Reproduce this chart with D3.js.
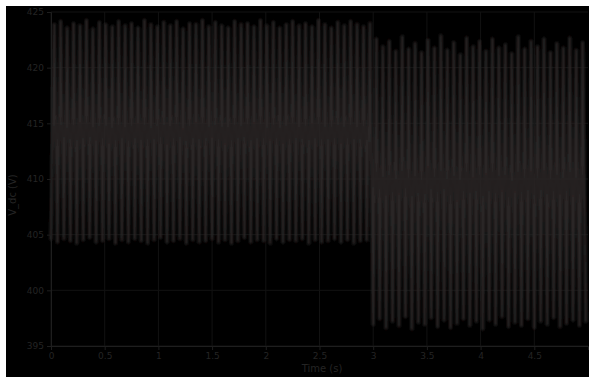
<!DOCTYPE html>
<html>
<head>
<meta charset="utf-8">
<script src="https://cdn.jsdelivr.net/npm/d3@7"></script>
<style>
  html, body { margin: 0; padding: 0; background: #fff; }
  svg { display: block; }
  text { font-family: "DejaVu Sans", sans-serif; }
</style>
</head>
<body>
<div id="chart"></div>
<script>
// chart size
let svgWidth = 589;
let svgHeight = 377;

let margin = { top: 12, left: 51, right: 1, bottom: 31 };
let width = svgWidth - margin.left - margin.right;
let height = svgHeight - margin.top - margin.bottom;

// axis ticks
let xTicks = [0, 0.5, 1, 1.5, 2, 2.5, 3, 3.5, 4, 4.5];
let yTicks = [395, 400, 405, 410, 415, 420, 425];
let xDomain = [0, 5];
let yDomain = [395, 425];

// step change at t = 3 s, one peak + one trough per cycle
let stepTime = 3;
let cycle = 0.06;

// peaks / troughs before the step (V)
let preHi = [423.9, 424.2, 423.6, 424.0, 423.8, 424.3, 423.5, 424.1, 423.9, 423.7,
    424.2, 423.8, 424.0, 423.6, 424.3, 423.9, 423.7, 424.1, 423.8, 424.2,
    423.5, 424.0, 423.9, 424.3, 423.7, 424.1, 423.8, 423.6, 424.2, 423.9,
    424.0, 423.7, 424.3, 423.8, 424.1, 423.6, 423.9, 424.2, 423.8, 424.0,
    423.7, 424.3, 423.9, 423.6, 424.1, 423.8, 424.2, 423.9, 423.7, 424.0];
let preLo = [404.5, 404.3, 404.6, 404.4, 404.2, 404.5, 404.7, 404.3, 404.4, 404.6,
    404.2, 404.5, 404.3, 404.6, 404.4, 404.2, 404.5, 404.7, 404.3, 404.4,
    404.6, 404.2, 404.5, 404.3, 404.4, 404.6, 404.3, 404.5, 404.2, 404.4,
    404.7, 404.3, 404.5, 404.4, 404.2, 404.6, 404.3, 404.5, 404.4, 404.6,
    404.2, 404.5, 404.3, 404.4, 404.6, 404.3, 404.5, 404.2, 404.4, 404.5];

// peaks / troughs after the step (V)
let postHi = [422.6, 421.9, 422.4, 421.5, 422.8, 421.7, 422.2, 421.4, 422.5, 421.8,
    422.9, 421.6, 422.3, 421.2, 422.7, 421.9, 422.4, 421.5, 422.6, 421.8,
    422.1, 421.3, 422.8, 421.7, 422.4, 421.9, 422.6, 421.4, 422.2, 421.8,
    422.7, 421.6, 422.3, 421.9];
let postLo = [396.9, 397.4, 396.6, 397.2, 396.8, 397.6, 396.5, 397.1, 396.9, 397.5,
    396.7, 397.3, 396.6, 397.0, 397.4, 396.8, 397.2, 396.5, 397.3, 396.9,
    397.6, 396.7, 397.1, 396.8, 397.4, 396.6, 397.2, 396.9, 397.5, 396.7,
    397.0, 397.3, 396.8, 397.1];

// build the zigzag sample list
let samples = [];
preHi.forEach(function(v, i) {
    samples.push({ t: i * cycle, v: preLo[i] });
    samples.push({ t: i * cycle + cycle / 2, v: v });
});
postHi.forEach(function(v, i) {
    samples.push({ t: stepTime + i * cycle, v: postLo[i] });
    samples.push({ t: stepTime + i * cycle + cycle / 2, v: v });
});
samples = samples.filter(d => d.t <= xDomain[1]);

let svg = d3.select('#chart')
    .append('svg')
    .attr('width', svgWidth)
    .attr('height', svgHeight);

// soft blur, the source picture is a fuzzy scan
let blur = svg.append('defs')
    .append('filter')
    .attr('id', 'soft')
    .attr('x', '-5%').attr('y', '-5%')
    .attr('width', '110%').attr('height', '110%');
blur.append('feGaussianBlur').attr('stdDeviation', 0.9);

// black figure area (white strip on top / left)
svg.append('rect')
    .attr('x', 6)
    .attr('y', 6)
    .attr('width', svgWidth - 6)
    .attr('height', svgHeight - 6)
    .attr('fill', '#000');

let plot = svg.append('g')
    .attr('transform', `translate(${margin.left}, ${margin.top})`);

let xScale = d3.scaleLinear().domain(xDomain).range([0, width]);
let yScale = d3.scaleLinear().domain(yDomain).range([height, 0]);

// grid
plot.append('g')
    .selectAll('line')
    .data(xTicks)
    .enter()
    .append('line')
    .attr('x1', d => xScale(d))
    .attr('x2', d => xScale(d))
    .attr('y1', 0)
    .attr('y2', height)
    .attr('stroke', '#121212')
    .attr('stroke-width', 1);
plot.append('g')
    .selectAll('line')
    .data(yTicks)
    .enter()
    .append('line')
    .attr('x1', 0)
    .attr('x2', width)
    .attr('y1', d => yScale(d))
    .attr('y2', d => yScale(d))
    .attr('stroke', '#121212')
    .attr('stroke-width', 1);

// signal
let line = d3.line()
    .x(d => xScale(d.t))
    .y(d => yScale(d.v));

plot.append('path')
    .datum(samples)
    .attr('d', line)
    .attr('fill', 'none')
    .attr('stroke', '#2a2525')
    .attr('stroke-width', 2.8)
    .attr('stroke-linejoin', 'round')
    .attr('filter', 'url(#soft)');

// axes
let bottomAxis = d3.axisBottom(xScale)
    .tickValues(xTicks)
    .tickSize(4)
    .tickFormat(d3.format('~g'));
let leftAxis = d3.axisLeft(yScale)
    .tickValues(yTicks)
    .tickSize(4);

let axX = plot.append('g')
    .attr('transform', `translate(0, ${height})`)
    .call(bottomAxis);
let axY = plot.append('g')
    .call(leftAxis);

[axX, axY].forEach(function(ax) {
    ax.select('.domain').attr('stroke', '#1e1e1e');
    ax.selectAll('.tick line').attr('stroke', '#1e1e1e');
    ax.selectAll('.tick text')
        .attr('fill', '#242424')
        .style('font-size', '9px');
});

// axis titles
svg.append('text')
    .attr('x', 322)
    .attr('y', 372)
    .attr('text-anchor', 'middle')
    .attr('fill', '#242424')
    .style('font-size', '10px')
    .text('Time (s)');

svg.append('text')
    .attr('transform', 'translate(16, 195) rotate(-90)')
    .attr('text-anchor', 'middle')
    .attr('fill', '#242424')
    .style('font-size', '10px')
    .text('V_dc (V)');
</script>
</body>
</html>
